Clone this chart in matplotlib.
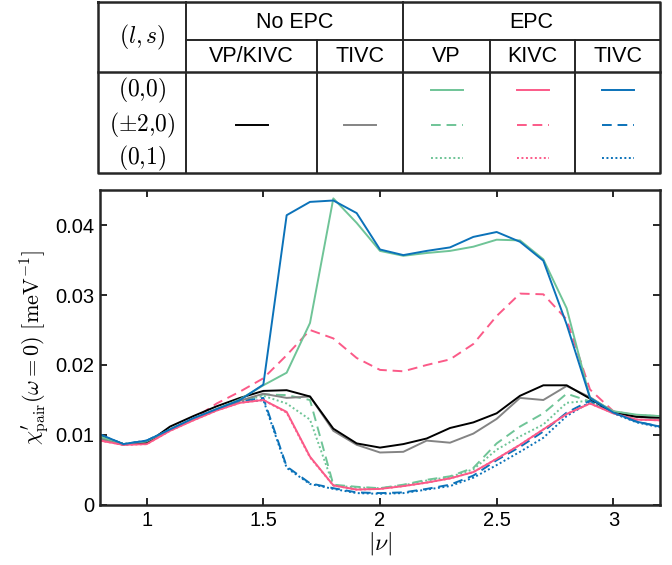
import matplotlib
matplotlib.use("Agg")
import matplotlib.pyplot as plt
import numpy as np

plt.rcParams["font.family"] = ["Liberation Sans", "DejaVu Sans"]
plt.rcParams["mathtext.fontset"] = "cm"

nu = np.round(np.arange(0.8, 3.21, 0.1), 2)

noepc_vpkivc = [0.0099, 0.0087, 0.0088, 0.0112, 0.0127, 0.0141, 0.0153, 0.0163, 0.0164, 0.0155,
                0.0109, 0.0088, 0.0082, 0.0087, 0.0095, 0.0110, 0.0118, 0.0131, 0.0156, 0.0171,
                0.0171, 0.0152, 0.0132, 0.0126, 0.0125]
noepc_tivc = [0.0095, 0.0086, 0.0090, 0.0107, 0.0123, 0.0137, 0.0149, 0.0159, 0.0153, 0.0155,
              0.0106, 0.0086, 0.0075, 0.0076, 0.0092, 0.0089, 0.0102, 0.0123, 0.0153, 0.0150,
              0.0170, 0.0154, 0.0133, 0.0126, 0.0123]
vp_00 = [0.0098, 0.0087, 0.0091, 0.0108, 0.0123, 0.0137, 0.0151, 0.0171, 0.0189, 0.0260,
         0.0438, 0.0403, 0.0363, 0.0356, 0.0360, 0.0363, 0.0369, 0.0379, 0.0378, 0.0351,
         0.0281, 0.0153, 0.0134, 0.0129, 0.0127]
vp_20 = [0.0096, 0.0086, 0.0090, 0.0107, 0.0122, 0.0136, 0.0148, 0.0158, 0.0157, 0.0150,
         0.0029, 0.0026, 0.0024, 0.0029, 0.0036, 0.0041, 0.0053, 0.0088, 0.0112, 0.0131,
         0.0159, 0.0148, 0.0133, 0.0128, 0.0127]
vp_01 = [0.0096, 0.0086, 0.0090, 0.0107, 0.0122, 0.0136, 0.0148, 0.0156, 0.0145, 0.0122,
         0.0028, 0.0025, 0.0024, 0.0028, 0.0035, 0.0040, 0.0051, 0.0079, 0.0098, 0.0115,
         0.0146, 0.0149, 0.0133, 0.0128, 0.0127]
kivc_00 = [0.0092, 0.0086, 0.0087, 0.0106, 0.0121, 0.0135, 0.0146, 0.0150, 0.0133, 0.0069,
           0.0028, 0.0022, 0.0023, 0.0027, 0.0032, 0.0038, 0.0047, 0.0066, 0.0086, 0.0108,
           0.0130, 0.0145, 0.0131, 0.0122, 0.0121]
kivc_20 = [0.0093, 0.0086, 0.0088, 0.0107, 0.0123, 0.0145, 0.0162, 0.0181, 0.0214, 0.0250,
           0.0238, 0.0210, 0.0193, 0.0191, 0.0200, 0.0208, 0.0230, 0.0270, 0.0302, 0.0301,
           0.0265, 0.0165, 0.0134, 0.0128, 0.0127]
kivc_01 = [0.0092, 0.0086, 0.0087, 0.0106, 0.0121, 0.0135, 0.0146, 0.0150, 0.0132, 0.0068,
           0.0028, 0.0022, 0.0023, 0.0027, 0.0032, 0.0038, 0.0047, 0.0066, 0.0086, 0.0108,
           0.0130, 0.0145, 0.0131, 0.0122, 0.0121]
tivc_00 = [0.0101, 0.0087, 0.0092, 0.0108, 0.0124, 0.0137, 0.0150, 0.0172, 0.0414, 0.0433,
           0.0435, 0.0417, 0.0365, 0.0357, 0.0363, 0.0368, 0.0383, 0.0390, 0.0376, 0.0349,
           0.0258, 0.0153, 0.0132, 0.0119, 0.0112]
tivc_20 = [0.0100, 0.0087, 0.0092, 0.0108, 0.0123, 0.0136, 0.0148, 0.0153, 0.0055, 0.0031,
           0.0024, 0.0018, 0.0017, 0.0018, 0.0023, 0.0029, 0.0042, 0.0064, 0.0083, 0.0105,
           0.0132, 0.0149, 0.0132, 0.0119, 0.0112]
tivc_01 = [0.0100, 0.0087, 0.0092, 0.0108, 0.0123, 0.0136, 0.0147, 0.0150, 0.0053, 0.0030,
           0.0023, 0.0017, 0.0016, 0.0017, 0.0022, 0.0027, 0.0039, 0.0057, 0.0076, 0.0096,
           0.0127, 0.0147, 0.0131, 0.0118, 0.0111]

green = "#6fc497"
pink = "#fb5a88"
blue = "#0b72b9"
gray = "#848484"

dash = (0, (5, 3))
dot = (0, (1, 1.3))
lw = 1.4

series = [
    (vp_01, green, dot), (kivc_01, pink, dot), (tivc_01, blue, dot),
    (vp_20, green, dash), (kivc_20, pink, dash), (tivc_20, blue, dash),
    (noepc_tivc, gray, "-"), (noepc_vpkivc, "black", "-"),
    (vp_00, green, "-"), (kivc_00, pink, "-"), (tivc_00, blue, "-"),
]

fig = plt.figure(figsize=(6.72, 5.65), dpi=100)
ax = fig.add_axes([100 / 672, 60 / 565, 560 / 672, 315 / 565])
for vals, c, ls in series:
    ax.plot(nu, vals, color=c, linestyle=ls, lw=lw)

ax.set_xlim(0.8, 3.2)
ax.set_ylim(0, 0.045)
ax.set_xticks([1, 1.5, 2, 2.5, 3])
ax.set_xticklabels(["1", "1.5", "2", "2.5", "3"])
ax.set_yticks([0, 0.01, 0.02, 0.03, 0.04])
ax.set_yticklabels(["0", "0.01", "0.02", "0.03", "0.04"])
ax.tick_params(direction="in", top=True, right=True, length=5, width=1.4,
               labelsize=14.5, colors="#262626", labelcolor="black", pad=4)
for s in ax.spines.values():
    s.set_linewidth(1.8)
    s.set_color("#262626")
ax.set_xlabel(r"$|\nu|$", fontsize=17, labelpad=0)
ax.set_ylabel(r"$\chi^{\prime}_{\rm pair}(\omega=0)\ [\mathrm{meV}^{-1}]$", fontsize=16, labelpad=3)

# legend table, drawn in pixel coordinates
tb = fig.add_axes([0, 0, 1, 1], zorder=-1)
tb.set_xlim(0, 672)
tb.set_ylim(565, 0)
tb.axis("off")
L, R, T, B = 98, 660, 2, 173
h1, h2 = 40, 72
c1, c2, c3, c4, c5 = 186, 317, 403, 490, 575
k = "#262626"
tb.plot([L, R, R, L, L], [T, T, B, B, T], color=k, lw=1.8)
tb.plot([c1, R], [h1, h1], color=k, lw=1.4)
tb.plot([L, R], [h2, h2], color=k, lw=1.8)
tb.plot([c1, c1], [T, B], color=k, lw=1.4)
tb.plot([c3, c3], [T, B], color=k, lw=1.4)
for cx in [c2, c4, c5]:
    tb.plot([cx, cx], [h1, B], color=k, lw=1.4)

hs = 15.5
tb.text((c1 + c3) / 2, (T + h1) / 2 + 1, "No EPC", ha="center", va="center", fontsize=hs)
tb.text((c3 + R) / 2, (T + h1) / 2 + 1, "EPC", ha="center", va="center", fontsize=hs)
sub = [("VP/KIVC", c1, c2), ("TIVC", c2, c3), ("VP", c3, c4), ("KIVC", c4, c5), ("TIVC", c5, R)]
for name, a, b in sub:
    tb.text((a + b) / 2, (h1 + h2) / 2 + 1, name, ha="center", va="center", fontsize=hs)
tb.text((L + c1) / 2, (T + h2) / 2, r"$(l,s)$", ha="center", va="center", fontsize=17)

rows_y = [90, 125, 158]
row_labels = [r"$(0{,}0)$", r"$(\pm 2{,}0)$", r"$(0{,}1)$"]
for yy, lab in zip(rows_y, row_labels):
    tb.text((L + c1) / 2, yy, lab, ha="center", va="center", fontsize=17)

half = 16
mid = rows_y[1]
tb.plot([(c1 + c2) / 2 - half, (c1 + c2) / 2 + half], [mid, mid], color="black", lw=lw)
tb.plot([(c2 + c3) / 2 - half, (c2 + c3) / 2 + half], [mid, mid], color=gray, lw=lw)
for color, a, b in [(green, c3, c4), (pink, c4, c5), (blue, c5, R)]:
    cx = (a + b) / 2
    for yy, ls in zip(rows_y, ["-", dash, dot]):
        tb.plot([cx - half, cx + half], [yy, yy], color=color, linestyle=ls, lw=lw)

fig.savefig("out.png", dpi=100)
